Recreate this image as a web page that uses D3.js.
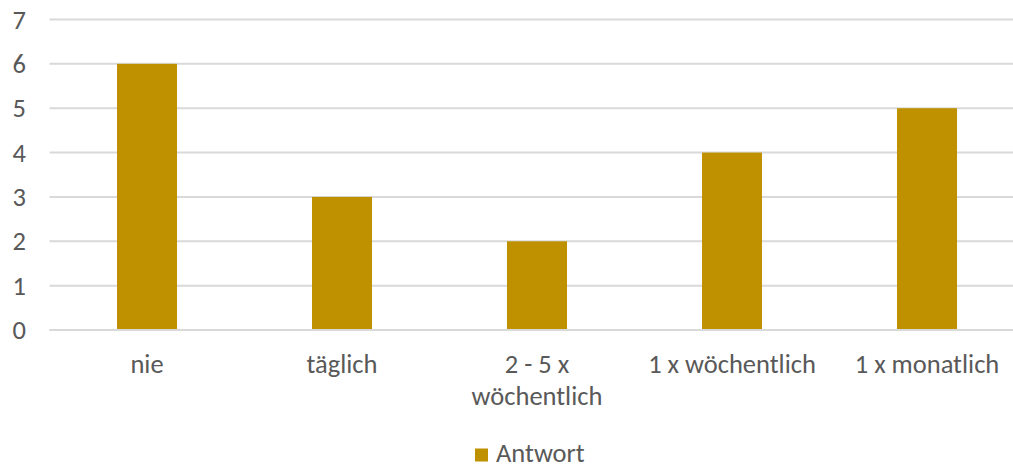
<!DOCTYPE html>
<html><head><meta charset="utf-8">
<script src="https://cdn.jsdelivr.net/npm/d3@7"></script>
<style>body{margin:0;background:#fff}svg{display:block}</style>
</head><body>
<svg id="c" width="1013" height="468"></svg>
<script>
const categories = [["nie"], ["täglich"], ["2 - 5 x", "wöchentlich"], ["1 x wöchentlich"], ["1 x monatlich"]];
const values = [6, 3, 2, 4, 5];
const yTicks = [0, 1, 2, 3, 4, 5, 6, 7];
const seriesName = "Antwort";

(function() {
const svg = d3.select("#c");
const font = "Carlito, Calibri, Lato, sans-serif";
const fs = "26.5px";
const textColor = "#595959";
const barColor = "#bf9000";
const mLeft = 49.5, mRight = 1024.5, mTop = 19.5, mBottom = 330;

const x = d3.scaleBand().domain(d3.range(categories.length)).range([mLeft, mRight])
  .paddingInner(0.6923).paddingOuter(0.3462);
const y = d3.scaleLinear().domain([0, 7]).range([mBottom, mTop]);

svg.append("g").selectAll("line").data(yTicks).join("line")
  .attr("x1", mLeft).attr("x2", 1013)
  .attr("y1", d => y(d)).attr("y2", d => y(d))
  .attr("stroke", "#d9d9d9").attr("stroke-width", 2);

svg.append("g").selectAll("text").data(yTicks).join("text")
  .attr("x", 26).attr("y", d => y(d)).attr("dy", "0.34em")
  .attr("text-anchor", "end").attr("fill", textColor)
  .style("font-family", font).style("font-size", fs).text(d => d);

svg.append("g").selectAll("rect").data(values).join("rect")
  .attr("x", (d, i) => x(i)).attr("width", x.bandwidth())
  .attr("y", d => y(d)).attr("height", d => y(0) - y(d))
  .attr("fill", barColor);

svg.append("line").attr("x1", mLeft).attr("x2", 1013).attr("y1", y(0)).attr("y2", y(0))
  .attr("stroke", "#d9d9d9").attr("stroke-width", 2);

const xl = svg.append("g").selectAll("text").data(categories).join("text")
  .attr("text-anchor", "middle").attr("fill", textColor)
  .style("font-family", font).style("font-size", fs);
xl.each(function(lines, i) {
  d3.select(this).selectAll("tspan").data(lines).join("tspan")
    .attr("x", x(i) + x.bandwidth() / 2)
    .attr("y", (d, j) => 373 + j * 32)
    .text(d => d);
});

svg.append("rect").attr("x", 475).attr("y", 448.5).attr("width", 13).attr("height", 13).attr("fill", barColor);
svg.append("text").attr("x", 496).attr("y", 461.5).attr("fill", textColor)
  .style("font-family", font).style("font-size", fs).text(seriesName);
})();
</script>
</body></html>
